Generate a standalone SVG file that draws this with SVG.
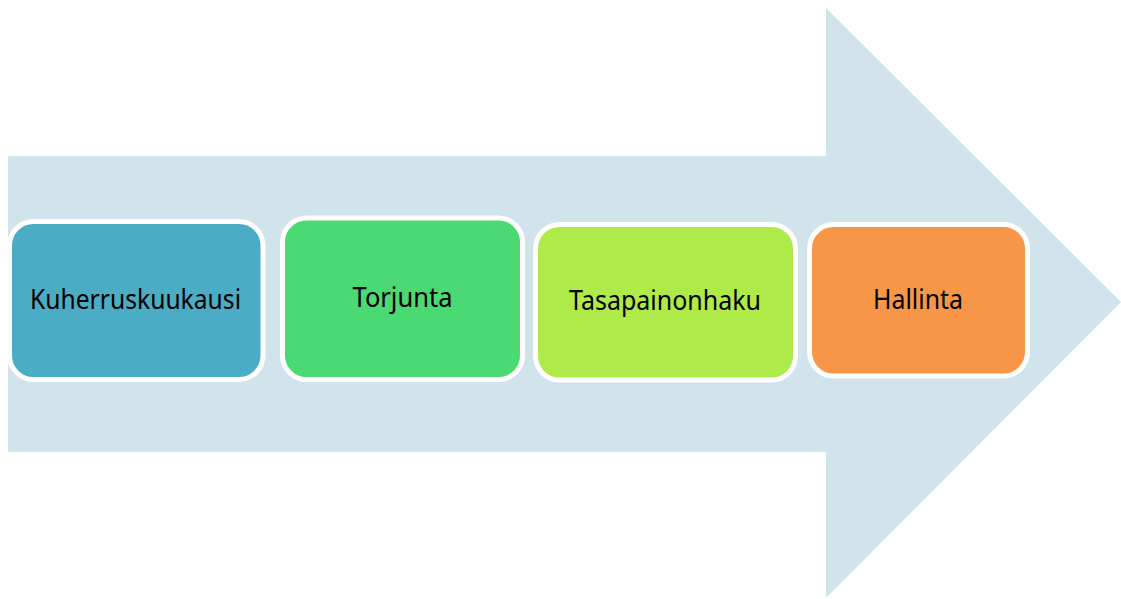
<svg xmlns="http://www.w3.org/2000/svg" width="1121" height="599" viewBox="0 0 1121 599">
<style>
.box{stroke:#FFFFFF;stroke-width:5}
.lbl{font-family:"Noto Sans","Open Sans",sans-serif;font-size:26.5px;fill:#000000;text-anchor:middle}
</style>
<rect width="1121" height="599" fill="#FFFFFF"/>
<g id="arrow">
<polygon points="8,156 826,156 826,8 1121,302 826,598 826,452 8,452" fill="#D1E3EB"/>
</g>
<g id="connectors"></g>
<g id="n1">
<rect class="box" x="9.5" y="221.5" width="253.5" height="158" rx="24" fill="#4BACC6"/>
<text class="lbl" x="135.5" y="309" textLength="211" lengthAdjust="spacingAndGlyphs">Kuherruskuukausi</text>
</g>
<g id="n2">
<rect class="box" x="282.5" y="218" width="240" height="161.5" rx="24" fill="#4AD973"/>
<text class="lbl" x="402.5" y="307" textLength="100" lengthAdjust="spacingAndGlyphs">Torjunta</text>
</g>
<g id="n3">
<rect class="box" x="535.5" y="224.5" width="260" height="155.5" rx="24" fill="#AEEA48"/>
<text class="lbl" x="665" y="310" textLength="192" lengthAdjust="spacingAndGlyphs">Tasapainonhaku</text>
</g>
<g id="n4">
<rect class="box" x="809.5" y="224.5" width="218" height="151.5" rx="24" fill="#F79646"/>
<text class="lbl" x="918" y="309" textLength="90" lengthAdjust="spacingAndGlyphs">Hallinta</text>
</g>
</svg>
